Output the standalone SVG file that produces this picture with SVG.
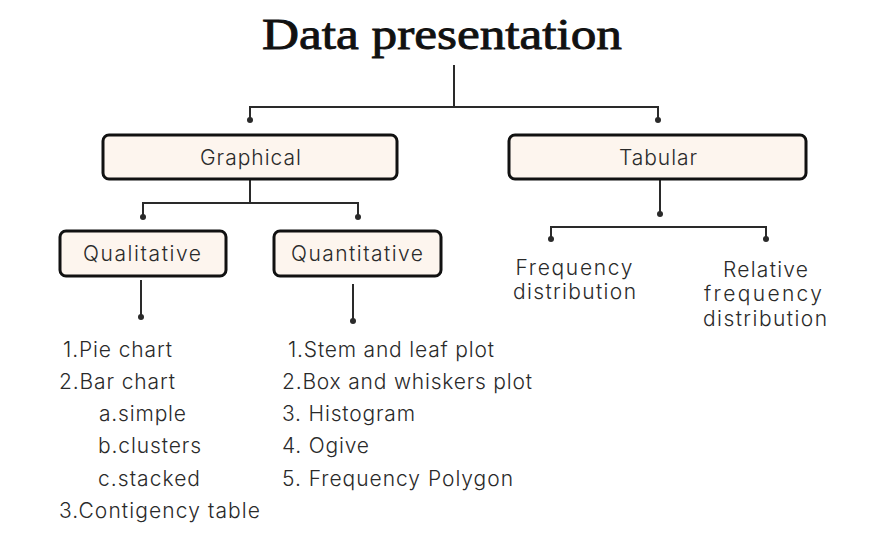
<svg xmlns="http://www.w3.org/2000/svg" width="871" height="544" viewBox="0 0 871 544">
<style>
.box{fill:#fdf5ee;stroke:#111;stroke-width:3}
.lbl{font-family:Inter,"Liberation Sans",sans-serif;font-size:21px;font-weight:300;fill:#2a2a2a;text-anchor:middle}
.txt{font-family:Inter,"Liberation Sans",sans-serif;font-size:21px;font-weight:300;fill:#2a2a2a}
.ln{stroke:#2a2a2a;stroke-width:2;fill:none}
.dot{fill:#2a2a2a}
.title{font-family:"Liberation Serif",serif;font-size:44px;fill:#111;stroke:#111;stroke-width:0.9;text-anchor:middle}
</style>
<rect width="871" height="544" fill="#fff"/>
<text class="title" x="442" y="49" textLength="360" lengthAdjust="spacingAndGlyphs">Data presentation</text>
<g id="connectors">
<path class="ln" d="M454 65V107M250 120V107H658V120"/>
<circle class="dot" cx="250" cy="120" r="3"/>
<circle class="dot" cx="658" cy="120" r="3"/>
<path class="ln" d="M250 179V203M143 217V203H358V217"/>
<circle class="dot" cx="143" cy="217" r="3"/>
<circle class="dot" cx="358" cy="217" r="3"/>
<path class="ln" d="M141 280V317M353 284V321"/>
<circle class="dot" cx="141" cy="317" r="3"/>
<circle class="dot" cx="353" cy="321" r="3"/>
<path class="ln" d="M660 179V214M551 239V227H766V239"/>
<circle class="dot" cx="660" cy="214" r="3"/>
<circle class="dot" cx="551" cy="239" r="3"/>
<circle class="dot" cx="766" cy="239" r="3"/>
</g>
<g id="graphical">
<rect class="box" x="103" y="135" width="294" height="44" rx="6"/>
<text class="lbl" x="250.5" y="165" textLength="101">Graphical</text>
</g>
<g id="tabular">
<rect class="box" x="509" y="135" width="297" height="44" rx="6"/>
<text class="lbl" x="658" y="165" textLength="78">Tabular</text>
</g>
<g id="qualitative">
<rect class="box" x="60" y="231" width="166" height="45" rx="6"/>
<text class="lbl" x="142" y="261" textLength="118">Qualitative</text>
</g>
<g id="quantitative">
<rect class="box" x="274" y="231" width="167" height="45" rx="6"/>
<text class="lbl" x="357" y="261" textLength="132">Quantitative</text>
</g>
<g id="frequency-distribution">
<text class="lbl" x="574" y="275" textLength="117">Frequency</text>
<text class="lbl" x="574.5" y="299" textLength="123">distribution</text>
</g>
<g id="relative-frequency-distribution">
<text class="lbl" x="765.5" y="277" textLength="85">Relative</text>
<text class="lbl" x="763" y="301" textLength="118">frequency</text>
<text class="lbl" x="765" y="326" textLength="124">distribution</text>
</g>
<g id="qualitative-list">
<text class="txt" x="63" y="357" textLength="109">1.Pie chart</text>
<text class="txt" x="59" y="389" textLength="116">2.Bar chart</text>
<text class="txt" x="99" y="421" textLength="87">a.simple</text>
<text class="txt" x="98" y="453" textLength="103">b.clusters</text>
<text class="txt" x="98" y="486" textLength="102">c.stacked</text>
<text class="txt" x="59" y="518" textLength="201">3.Contigency table</text>
</g>
<g id="quantitative-list">
<text class="txt" x="288" y="357" textLength="206">1.Stem and leaf plot</text>
<text class="txt" x="282" y="389" textLength="250">2.Box and whiskers plot</text>
<text class="txt" x="282" y="421" textLength="133">3. Histogram</text>
<text class="txt" x="282" y="453" textLength="87">4. Ogive</text>
<text class="txt" x="282" y="486" textLength="231">5. Frequency Polygon</text>
</g>
</svg>
